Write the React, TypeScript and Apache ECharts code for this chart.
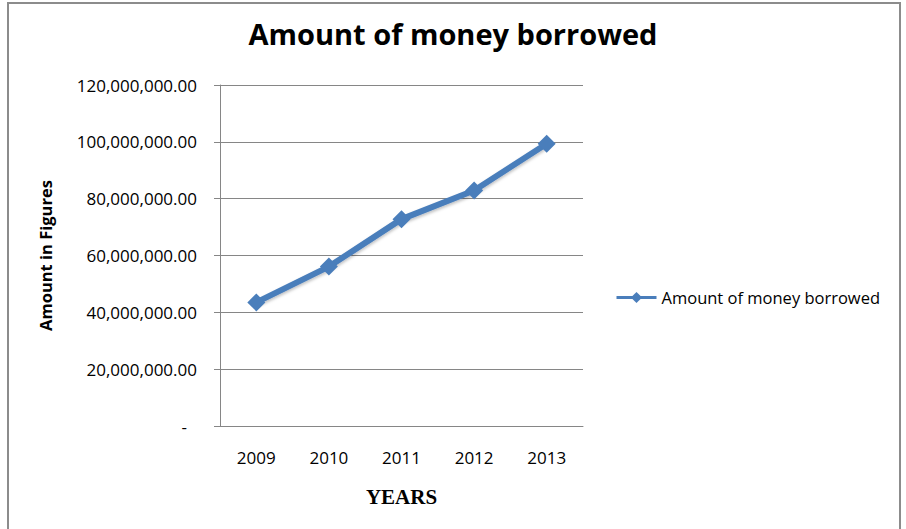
import React, { useEffect, useRef } from "react";
import * as echarts from "echarts";

const years = ["2009", "2010", "2011", "2012", "2013"];
const borrowed = [43500000, 56100000, 72800000, 82900000, 99300000];
const seriesName = "Amount of money borrowed";
const yMax = 120000000;
const yStep = 20000000;

export default function App() {
  const ref = useRef<HTMLDivElement>(null);
  useEffect(() => {
    if (!ref.current) return;
    const chart = echarts.init(ref.current, null, { renderer: "svg" });
    chart.setOption({
      animation: false,
      backgroundColor: "#ffffff",
      title: {
        text: "Amount of money borrowed",
        left: "center",
        top: 14,
        textStyle: { fontFamily: "Open Sans", fontWeight: "bold", fontSize: 29, color: "#000" },
      },
      graphic: [
        {
          type: "rect",
          shape: { x: 8, y: 3, width: 892, height: 560 },
          style: { fill: "none", stroke: "#8c8c8c", lineWidth: 2 },
          silent: true,
        },
      ],
      legend: {
        left: 610,
        top: 284,
        itemWidth: 40,
        itemHeight: 14,
        itemGap: 3,
        data: [seriesName],
        lineStyle: { width: 3 },
        textStyle: { fontFamily: "Open Sans", fontSize: 16.5, color: "#000" },
      },
      grid: { left: 220, top: 85, width: 363, height: 341 },
      xAxis: {
        type: "category",
        data: years,
        boundaryGap: true,
        name: "YEARS",
        nameLocation: "middle",
        nameGap: 60,
        nameTextStyle: { fontFamily: "Liberation Serif", fontWeight: "bold", fontSize: 21, color: "#000" },
        axisLine: { lineStyle: { color: "#868686", width: 1 } },
        axisTick: { show: false },
        axisLabel: { margin: 23, fontFamily: "Open Sans", fontSize: 17, color: "#000" },
      },
      yAxis: {
        type: "value",
        min: 0,
        max: yMax,
        interval: yStep,
        name: "Amount in Figures",
        nameLocation: "middle",
        nameGap: 166,
        nameTextStyle: { fontFamily: "Open Sans", fontWeight: "bold", fontSize: 16.5, color: "#000" },
        axisLine: { show: true, lineStyle: { color: "#868686", width: 1 } },
        axisTick: { show: true, length: 6, lineStyle: { color: "#868686" } },
        splitLine: { lineStyle: { color: "#868686", width: 1 } },
        axisLabel: {
          margin: 23,
          fontFamily: "Open Sans",
          fontSize: 17,
          color: "#000",
          formatter: (v: number) =>
            v === 0
              ? "{d|-}"
              : v.toLocaleString("en-US", { minimumFractionDigits: 2, maximumFractionDigits: 2 }),
          rich: { d: { fontFamily: "Open Sans", fontSize: 17, color: "#000", padding: [0, 10, 0, 0] } },
        },
      },
      series: [
        {
          name: seriesName,
          type: "line",
          data: borrowed,
          symbol: "diamond",
          symbolSize: 18,
          lineStyle: { color: "#4a7ebb", width: 6, shadowColor: "rgba(0,0,0,0.25)", shadowBlur: 3, shadowOffsetY: 2 },
          itemStyle: { color: "#4a7ebb" },
        },
      ],
    });
    return () => chart.dispose();
  }, []);
  return (
    <div
      ref={ref}
      style={{ position: "fixed", left: 0, top: 0, width: 906, height: 529 }}
    />
  );
}
